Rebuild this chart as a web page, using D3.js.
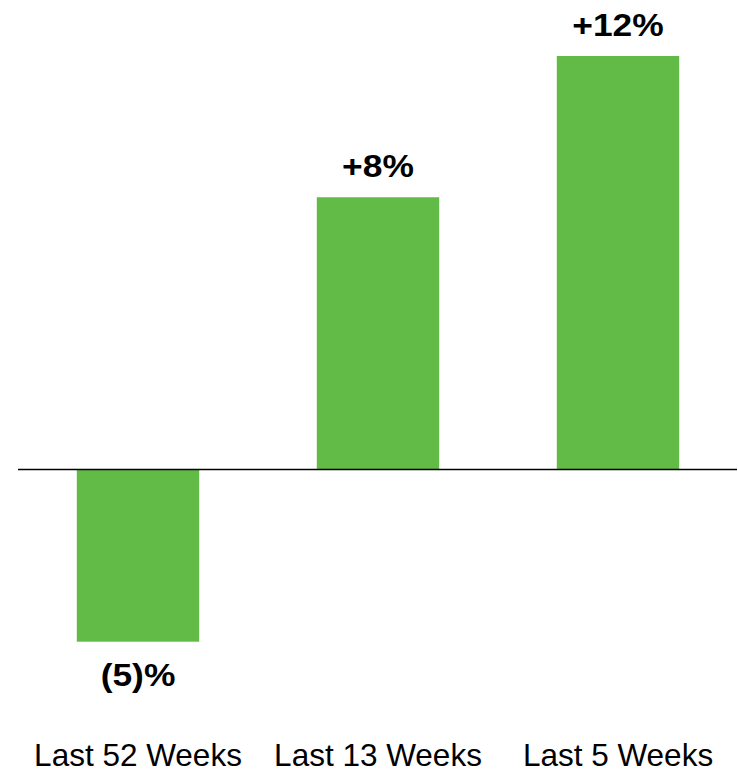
<!DOCTYPE html>
<html>
<head>
<meta charset="utf-8">
<script src="https://cdn.jsdelivr.net/npm/d3@7"></script>
<style>
  html, body { margin: 0; padding: 0; background: #ffffff; }
  svg { display: block; }
</style>
</head>
<body>
<svg id="chart" width="738" height="769"></svg>
<script>
const categories = ["Last 52 Weeks", "Last 13 Weeks", "Last 5 Weeks"];
const values = [-5.0, 7.9, 12.0];
const valueLabels = ["(5)%", "+8%", "+12%"];

const svg = d3.select("#chart");

const x = d3.scaleBand()
  .domain(categories)
  .range([18, 738])
  .paddingInner(0.49)
  .paddingOuter(0.245);

const y = d3.scaleLinear()
  .domain([-5, 12])
  .range([641.7, 56]);

const data = categories.map((c, i) => ({ cat: c, v: values[i], label: valueLabels[i] }));

svg.append("g")
  .selectAll("rect")
  .data(data)
  .join("rect")
  .attr("x", d => x(d.cat))
  .attr("width", x.bandwidth())
  .attr("y", d => Math.min(y(d.v), y(0)))
  .attr("height", d => Math.abs(y(d.v) - y(0)))
  .attr("fill", "#63bb47");

// zero baseline
svg.append("line")
  .attr("x1", 18).attr("x2", 737)
  .attr("y1", y(0)).attr("y2", y(0))
  .attr("stroke", "#000").attr("stroke-width", 1.6);

// value labels
svg.append("g")
  .selectAll("text")
  .data(data)
  .join("text")
  .attr("transform", d => {
    const cx = x(d.cat) + x.bandwidth() / 2;
    const ty = d.v >= 0 ? y(d.v) - 20 : y(d.v) + 44.5;
    return `translate(${cx},${ty}) scale(1.16,1)`;
  })
  .attr("text-anchor", "middle")
  .attr("font-family", "Liberation Sans, Arial, sans-serif")
  .attr("font-weight", "bold")
  .attr("font-size", 30.5)
  .attr("fill", "#000")
  .text(d => d.label);

// category labels
const xAxis = d3.axisBottom(x).tickSize(0).tickPadding(0);
const gx = svg.append("g").attr("transform", "translate(0,743)").call(xAxis);
gx.select(".domain").remove();
gx.selectAll("text")
  .attr("dy", null)
  .attr("y", 22.5)
  .attr("font-family", "Liberation Sans, Arial, sans-serif")
  .attr("font-size", 31.5)
  .attr("fill", "#000");
</script>
</body>
</html>
